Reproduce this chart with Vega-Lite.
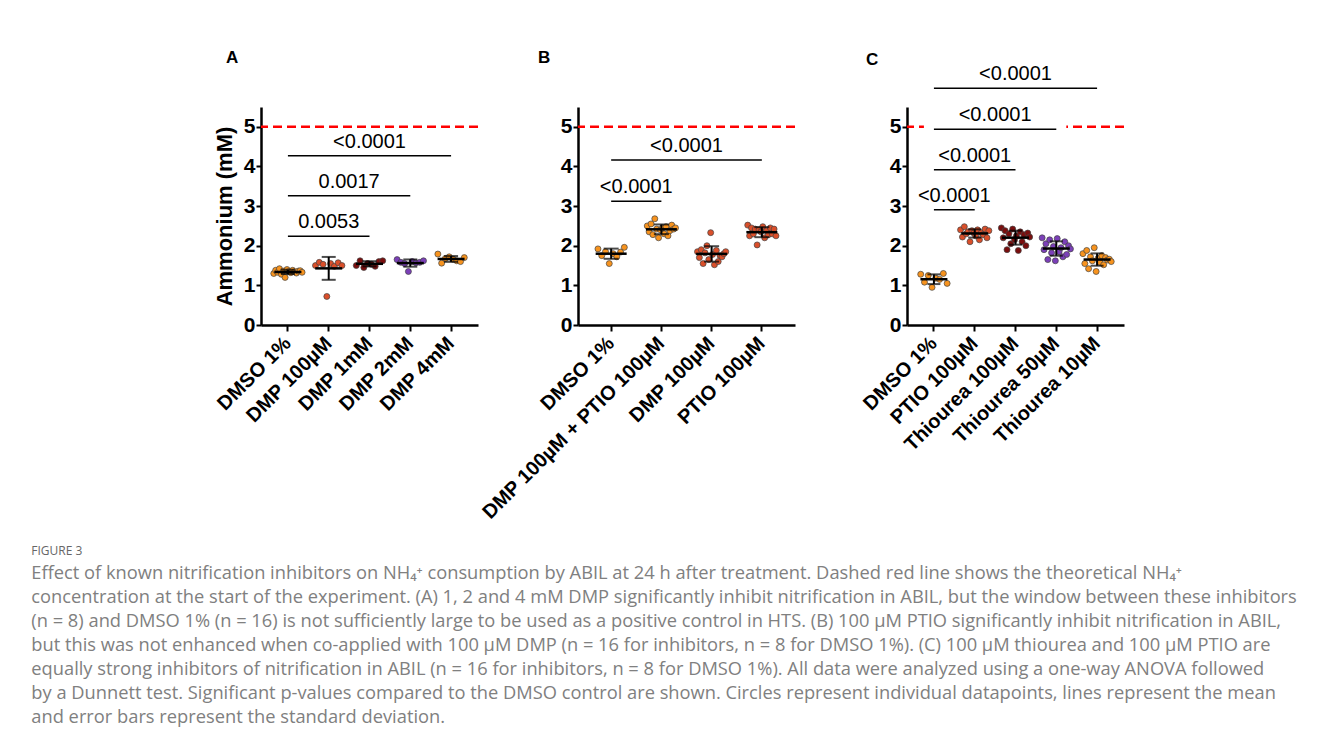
{
  "$schema": "https://vega.github.io/schema/vega-lite/v6.json",
  "background": "white",
  "padding": {"left": 31, "top": 49, "right": 5, "bottom": 5},
  "config": {
    "view": {"stroke": null},
    "font": "Liberation Sans",
    "axis": {"grid": false, "domainColor": "black", "tickColor": "black", "labelColor": "black", "titleColor": "black", "domainWidth": 2.5, "tickWidth": 2, "tickSize": 6, "labelFont": "Liberation Sans", "labelFontWeight": "bold", "titleFont": "Liberation Sans", "titleFontWeight": "bold"},
    "axisY": {"tickSize": 5, "labelFontSize": 21, "labelPadding": 1}
  },
  "title": {
    "text": "FIGURE 3",
    "subtitle": [
      "Effect of known nitrification inhibitors on NH₄⁺ consumption by ABIL at 24 h after treatment. Dashed red line shows the theoretical NH₄⁺",
      "concentration at the start of the experiment. (A) 1, 2 and 4 mM DMP significantly inhibit nitrification in ABIL, but the window between these inhibitors",
      "(n = 8) and DMSO 1% (n = 16) is not sufficiently large to be used as a positive control in HTS. (B) 100 µM PTIO significantly inhibit nitrification in ABIL,",
      "but this was not enhanced when co-applied with 100 µM DMP (n = 16 for inhibitors, n = 8 for DMSO 1%). (C) 100 µM thiourea and 100 µM PTIO are",
      "equally strong inhibitors of nitrification in ABIL (n = 16 for inhibitors, n = 8 for DMSO 1%). All data were analyzed using a one-way ANOVA followed",
      "by a Dunnett test. Significant p-values compared to the DMSO control are shown. Circles represent individual datapoints, lines represent the mean",
      "and error bars represent the standard deviation."
    ],
    "orient": "bottom",
    "anchor": "start",
    "frame": "bounds",
    "offset": 23,
    "dx": -182,
    "font": "Open Sans",
    "fontSize": 12,
    "fontWeight": "normal",
    "color": "#666666",
    "subtitleFont": "Open Sans",
    "subtitleFontSize": 18.3,
    "subtitleColor": "#808080",
    "subtitleLineHeight": 24,
    "subtitlePadding": 7
  },
  "datasets": {
    "ref": [{"ref": 5}],
    "A_pts": [
      {"group": "DMSO 1%", "rep": 1, "value": 1.30}, {"group": "DMSO 1%", "rep": 2, "value": 1.38}, {"group": "DMSO 1%", "rep": 3, "value": 1.33}, {"group": "DMSO 1%", "rep": 4, "value": 1.42},
      {"group": "DMSO 1%", "rep": 5, "value": 1.28}, {"group": "DMSO 1%", "rep": 6, "value": 1.36}, {"group": "DMSO 1%", "rep": 7, "value": 1.20}, {"group": "DMSO 1%", "rep": 8, "value": 1.40},
      {"group": "DMSO 1%", "rep": 9, "value": 1.35}, {"group": "DMSO 1%", "rep": 10, "value": 1.32}, {"group": "DMSO 1%", "rep": 11, "value": 1.38}, {"group": "DMSO 1%", "rep": 12, "value": 1.34},
      {"group": "DMSO 1%", "rep": 13, "value": 1.31}, {"group": "DMSO 1%", "rep": 14, "value": 1.36}, {"group": "DMSO 1%", "rep": 15, "value": 1.37}, {"group": "DMSO 1%", "rep": 16, "value": 1.33},
      {"group": "DMP 100µM", "rep": 1, "value": 1.50}, {"group": "DMP 100µM", "rep": 2, "value": 1.58}, {"group": "DMP 100µM", "rep": 3, "value": 1.53}, {"group": "DMP 100µM", "rep": 4, "value": 0.72},
      {"group": "DMP 100µM", "rep": 5, "value": 1.55}, {"group": "DMP 100µM", "rep": 6, "value": 1.48}, {"group": "DMP 100µM", "rep": 7, "value": 1.57}, {"group": "DMP 100µM", "rep": 8, "value": 1.50},
      {"group": "DMP 1mM", "rep": 1, "value": 1.50}, {"group": "DMP 1mM", "rep": 2, "value": 1.62}, {"group": "DMP 1mM", "rep": 3, "value": 1.45}, {"group": "DMP 1mM", "rep": 4, "value": 1.55},
      {"group": "DMP 1mM", "rep": 5, "value": 1.53}, {"group": "DMP 1mM", "rep": 6, "value": 1.48}, {"group": "DMP 1mM", "rep": 7, "value": 1.60}, {"group": "DMP 1mM", "rep": 8, "value": 1.62},
      {"group": "DMP 2mM", "rep": 1, "value": 1.65}, {"group": "DMP 2mM", "rep": 2, "value": 1.58}, {"group": "DMP 2mM", "rep": 3, "value": 1.55}, {"group": "DMP 2mM", "rep": 4, "value": 1.35},
      {"group": "DMP 2mM", "rep": 5, "value": 1.60}, {"group": "DMP 2mM", "rep": 6, "value": 1.57}, {"group": "DMP 2mM", "rep": 7, "value": 1.58}, {"group": "DMP 2mM", "rep": 8, "value": 1.62},
      {"group": "DMP 4mM", "rep": 1, "value": 1.79}, {"group": "DMP 4mM", "rep": 2, "value": 1.56}, {"group": "DMP 4mM", "rep": 3, "value": 1.68}, {"group": "DMP 4mM", "rep": 4, "value": 1.72},
      {"group": "DMP 4mM", "rep": 5, "value": 1.66}, {"group": "DMP 4mM", "rep": 6, "value": 1.62}, {"group": "DMP 4mM", "rep": 7, "value": 1.60}, {"group": "DMP 4mM", "rep": 8, "value": 1.70}
    ],
    "A_br": [
      {"from": "DMSO 1%", "to": "DMP 1mM", "mid": "DMP 100µM", "between": false, "y": 2.24, "label": "0.0053"},
      {"from": "DMSO 1%", "to": "DMP 2mM", "mid": "DMP 100µM", "between": true, "y": 3.26, "label": "0.0017"},
      {"from": "DMSO 1%", "to": "DMP 4mM", "mid": "DMP 1mM", "between": false, "y": 4.27, "label": "<0.0001"}
    ],
    "B_pts": [
      {"group": "DMSO 1%", "rep": 1, "value": 1.92}, {"group": "DMSO 1%", "rep": 2, "value": 1.75}, {"group": "DMSO 1%", "rep": 3, "value": 1.85}, {"group": "DMSO 1%", "rep": 4, "value": 1.55},
      {"group": "DMSO 1%", "rep": 5, "value": 1.80}, {"group": "DMSO 1%", "rep": 6, "value": 1.72}, {"group": "DMSO 1%", "rep": 7, "value": 1.84}, {"group": "DMSO 1%", "rep": 8, "value": 1.96},
      {"group": "DMP 100µM + PTIO 100µM", "rep": 1, "value": 2.50}, {"group": "DMP 100µM + PTIO 100µM", "rep": 2, "value": 2.35}, {"group": "DMP 100µM + PTIO 100µM", "rep": 3, "value": 2.55}, {"group": "DMP 100µM + PTIO 100µM", "rep": 4, "value": 2.28},
      {"group": "DMP 100µM + PTIO 100µM", "rep": 5, "value": 2.68}, {"group": "DMP 100µM + PTIO 100µM", "rep": 6, "value": 2.42}, {"group": "DMP 100µM + PTIO 100µM", "rep": 7, "value": 2.20}, {"group": "DMP 100µM + PTIO 100µM", "rep": 8, "value": 2.40},
      {"group": "DMP 100µM + PTIO 100µM", "rep": 9, "value": 2.45}, {"group": "DMP 100µM + PTIO 100µM", "rep": 10, "value": 2.30}, {"group": "DMP 100µM + PTIO 100µM", "rep": 11, "value": 2.48}, {"group": "DMP 100µM + PTIO 100µM", "rep": 12, "value": 2.25},
      {"group": "DMP 100µM + PTIO 100µM", "rep": 13, "value": 2.38}, {"group": "DMP 100µM + PTIO 100µM", "rep": 14, "value": 2.52}, {"group": "DMP 100µM + PTIO 100µM", "rep": 15, "value": 2.42}, {"group": "DMP 100µM + PTIO 100µM", "rep": 16, "value": 2.45},
      {"group": "DMP 100µM", "rep": 1, "value": 1.85}, {"group": "DMP 100µM", "rep": 2, "value": 1.70}, {"group": "DMP 100µM", "rep": 3, "value": 1.90}, {"group": "DMP 100µM", "rep": 4, "value": 1.55},
      {"group": "DMP 100µM", "rep": 5, "value": 1.82}, {"group": "DMP 100µM", "rep": 6, "value": 2.00}, {"group": "DMP 100µM", "rep": 7, "value": 1.65}, {"group": "DMP 100µM", "rep": 8, "value": 2.33},
      {"group": "DMP 100µM", "rep": 9, "value": 1.78}, {"group": "DMP 100µM", "rep": 10, "value": 1.52}, {"group": "DMP 100µM", "rep": 11, "value": 1.88}, {"group": "DMP 100µM", "rep": 12, "value": 1.60},
      {"group": "DMP 100µM", "rep": 13, "value": 1.75}, {"group": "DMP 100µM", "rep": 14, "value": 1.72}, {"group": "DMP 100µM", "rep": 15, "value": 1.80}, {"group": "DMP 100µM", "rep": 16, "value": 1.85},
      {"group": "PTIO 100µM", "rep": 1, "value": 2.52}, {"group": "PTIO 100µM", "rep": 2, "value": 2.25}, {"group": "PTIO 100µM", "rep": 3, "value": 2.45}, {"group": "PTIO 100µM", "rep": 4, "value": 2.30},
      {"group": "PTIO 100µM", "rep": 5, "value": 2.42}, {"group": "PTIO 100µM", "rep": 6, "value": 2.02}, {"group": "PTIO 100µM", "rep": 7, "value": 2.40}, {"group": "PTIO 100µM", "rep": 8, "value": 2.35},
      {"group": "PTIO 100µM", "rep": 9, "value": 2.48}, {"group": "PTIO 100µM", "rep": 10, "value": 2.20}, {"group": "PTIO 100µM", "rep": 11, "value": 2.38}, {"group": "PTIO 100µM", "rep": 12, "value": 2.28},
      {"group": "PTIO 100µM", "rep": 13, "value": 2.45}, {"group": "PTIO 100µM", "rep": 14, "value": 2.30}, {"group": "PTIO 100µM", "rep": 15, "value": 2.42}, {"group": "PTIO 100µM", "rep": 16, "value": 2.25}
    ],
    "B_br": [
      {"from": "DMSO 1%", "to": "DMP 100µM + PTIO 100µM", "mid": "DMSO 1%", "between": true, "y": 3.12, "label": "<0.0001"},
      {"from": "DMSO 1%", "to": "PTIO 100µM", "mid": "DMP 100µM + PTIO 100µM", "between": true, "y": 4.16, "label": "<0.0001"}
    ],
    "C_pts": [
      {"group": "DMSO 1%", "rep": 1, "value": 1.28}, {"group": "DMSO 1%", "rep": 2, "value": 1.08}, {"group": "DMSO 1%", "rep": 3, "value": 1.25}, {"group": "DMSO 1%", "rep": 4, "value": 0.95},
      {"group": "DMSO 1%", "rep": 5, "value": 1.18}, {"group": "DMSO 1%", "rep": 6, "value": 1.15}, {"group": "DMSO 1%", "rep": 7, "value": 1.30}, {"group": "DMSO 1%", "rep": 8, "value": 1.05},
      {"group": "PTIO 100µM", "rep": 1, "value": 2.40}, {"group": "PTIO 100µM", "rep": 2, "value": 2.22}, {"group": "PTIO 100µM", "rep": 3, "value": 2.48}, {"group": "PTIO 100µM", "rep": 4, "value": 2.30},
      {"group": "PTIO 100µM", "rep": 5, "value": 2.35}, {"group": "PTIO 100µM", "rep": 6, "value": 2.10}, {"group": "PTIO 100µM", "rep": 7, "value": 2.38}, {"group": "PTIO 100µM", "rep": 8, "value": 2.32},
      {"group": "PTIO 100µM", "rep": 9, "value": 2.25}, {"group": "PTIO 100µM", "rep": 10, "value": 2.40}, {"group": "PTIO 100µM", "rep": 11, "value": 2.15}, {"group": "PTIO 100µM", "rep": 12, "value": 2.33},
      {"group": "PTIO 100µM", "rep": 13, "value": 2.28}, {"group": "PTIO 100µM", "rep": 14, "value": 2.42}, {"group": "PTIO 100µM", "rep": 15, "value": 2.20}, {"group": "PTIO 100µM", "rep": 16, "value": 2.38},
      {"group": "Thiourea 100µM", "rep": 1, "value": 2.45}, {"group": "Thiourea 100µM", "rep": 2, "value": 2.20}, {"group": "Thiourea 100µM", "rep": 3, "value": 2.38}, {"group": "Thiourea 100µM", "rep": 4, "value": 1.90},
      {"group": "Thiourea 100µM", "rep": 5, "value": 2.30}, {"group": "Thiourea 100µM", "rep": 6, "value": 2.05}, {"group": "Thiourea 100µM", "rep": 7, "value": 2.42}, {"group": "Thiourea 100µM", "rep": 8, "value": 2.15},
      {"group": "Thiourea 100µM", "rep": 9, "value": 2.25}, {"group": "Thiourea 100µM", "rep": 10, "value": 1.88}, {"group": "Thiourea 100µM", "rep": 11, "value": 2.35}, {"group": "Thiourea 100µM", "rep": 12, "value": 2.10},
      {"group": "Thiourea 100µM", "rep": 13, "value": 2.28}, {"group": "Thiourea 100µM", "rep": 14, "value": 2.00}, {"group": "Thiourea 100µM", "rep": 15, "value": 2.32}, {"group": "Thiourea 100µM", "rep": 16, "value": 2.22},
      {"group": "Thiourea 50µM", "rep": 1, "value": 2.20}, {"group": "Thiourea 50µM", "rep": 2, "value": 1.90}, {"group": "Thiourea 50µM", "rep": 3, "value": 2.05}, {"group": "Thiourea 50µM", "rep": 4, "value": 1.65},
      {"group": "Thiourea 50µM", "rep": 5, "value": 2.15}, {"group": "Thiourea 50µM", "rep": 6, "value": 1.82}, {"group": "Thiourea 50µM", "rep": 7, "value": 1.98}, {"group": "Thiourea 50µM", "rep": 8, "value": 1.62},
      {"group": "Thiourea 50µM", "rep": 9, "value": 2.18}, {"group": "Thiourea 50µM", "rep": 10, "value": 1.85}, {"group": "Thiourea 50µM", "rep": 11, "value": 1.95}, {"group": "Thiourea 50µM", "rep": 12, "value": 1.72},
      {"group": "Thiourea 50µM", "rep": 13, "value": 2.10}, {"group": "Thiourea 50µM", "rep": 14, "value": 1.78}, {"group": "Thiourea 50µM", "rep": 15, "value": 2.00}, {"group": "Thiourea 50µM", "rep": 16, "value": 1.92},
      {"group": "Thiourea 10µM", "rep": 1, "value": 1.80}, {"group": "Thiourea 10µM", "rep": 2, "value": 1.55}, {"group": "Thiourea 10µM", "rep": 3, "value": 1.88}, {"group": "Thiourea 10µM", "rep": 4, "value": 1.42},
      {"group": "Thiourea 10µM", "rep": 5, "value": 1.72}, {"group": "Thiourea 10µM", "rep": 6, "value": 1.62}, {"group": "Thiourea 10µM", "rep": 7, "value": 1.95}, {"group": "Thiourea 10µM", "rep": 8, "value": 1.35},
      {"group": "Thiourea 10µM", "rep": 9, "value": 1.68}, {"group": "Thiourea 10µM", "rep": 10, "value": 1.58}, {"group": "Thiourea 10µM", "rep": 11, "value": 1.75}, {"group": "Thiourea 10µM", "rep": 12, "value": 1.52},
      {"group": "Thiourea 10µM", "rep": 13, "value": 1.70}, {"group": "Thiourea 10µM", "rep": 14, "value": 1.64}, {"group": "Thiourea 10µM", "rep": 15, "value": 1.66}, {"group": "Thiourea 10µM", "rep": 16, "value": 1.60}
    ],
    "C_br": [
      {"from": "DMSO 1%", "to": "PTIO 100µM", "mid": "DMSO 1%", "between": true, "y": 2.91, "label": "<0.0001"},
      {"from": "DMSO 1%", "to": "Thiourea 100µM", "mid": "PTIO 100µM", "between": false, "y": 3.92, "label": "<0.0001"},
      {"from": "DMSO 1%", "to": "Thiourea 50µM", "mid": "PTIO 100µM", "between": true, "y": 4.94, "label": "<0.0001"},
      {"from": "DMSO 1%", "to": "Thiourea 10µM", "mid": "Thiourea 100µM", "between": false, "y": 5.97, "label": "<0.0001"}
    ]
  },
  "bounds": "flush",
  "spacing": 646,
  "hconcat": [
    {
      "bounds": "flush",
      "spacing": 100,
      "hconcat": [
        {
          "width": 217,
          "height": 218,
          "title": {"text": "A", "anchor": "start", "frame": "group", "dx": -35, "offset": 40, "fontSize": 17, "fontWeight": "bold", "font": "Liberation Sans", "color": "black"},
          "resolve": {"scale": {"xOffset": "independent"}},
          "layer": [
            {"data": {"name": "ref"}, "mark": {"type": "rule", "color": "#ff0000", "strokeDash": [9, 5], "strokeWidth": 2.5},
             "encoding": {"y": {"field": "ref", "type": "quantitative", "title": "Ammonium (mM)", "scale": {"domain": [0, 5.5], "nice": false}}}},
            {"data": {"name": "A_br"}, "mark": {"type": "rule", "color": "white", "strokeWidth": 20, "strokeCap": "square"},
             "encoding": {"x": {"field": "from", "type": "nominal", "title": null, "scale": {"type": "band", "domain": ["DMSO 1%", "DMP 100µM", "DMP 1mM", "DMP 2mM", "DMP 4mM"], "paddingInner": 0.26, "paddingOuter": 0.29}}, "x2": {"field": "to"}, "y": {"field": "y", "type": "quantitative", "title": "Ammonium (mM)"}}},
            {"data": {"name": "A_pts"}, "transform": [{"filter": {"field": "group", "equal": "DMSO 1%"}}],
             "mark": {"type": "circle", "size": 36, "opacity": 1, "stroke": "#444444", "strokeWidth": 0.7},
             "encoding": {
               "x": {"field": "group", "type": "nominal", "title": null, "scale": {"type": "band", "domain": ["DMSO 1%", "DMP 100µM", "DMP 1mM", "DMP 2mM", "DMP 4mM"], "paddingInner": 0.26, "paddingOuter": 0.29},
                     "axis": {"labelAngle": -45, "labelFontSize": 20, "labelLimit": 400, "labelPadding": 9}},
               "xOffset": {"field": "rep", "type": "ordinal"},
               "y": {"field": "value", "type": "quantitative", "title": "Ammonium (mM)", "scale": {"domain": [0, 5.5], "nice": false},
                     "axis": {"titleFontSize": 22, "titlePadding": 7, "values": [0, 1, 2, 3, 4, 5], "labelFontSize": 21, "labelPadding": 1, "tickSize": 5}},
               "color": {"field": "group", "type": "nominal", "scale": {"domain": ["DMSO 1%", "DMP 100µM", "DMP 1mM", "DMP 2mM", "DMP 4mM"], "range": ["#F7931E", "#DA4F2A", "#7A0E0E", "#7B3FB8", "#F7931E"]}, "legend": null}
             }},
            {"data": {"name": "A_pts"}, "transform": [{"filter": {"field": "group", "oneOf": ["DMP 100µM", "DMP 1mM", "DMP 2mM", "DMP 4mM"]}}],
             "mark": {"type": "circle", "size": 36, "opacity": 1, "stroke": "#444444", "strokeWidth": 0.7},
             "encoding": {
               "x": {"field": "group", "type": "nominal", "title": null, "scale": {"type": "band", "domain": ["DMSO 1%", "DMP 100µM", "DMP 1mM", "DMP 2mM", "DMP 4mM"], "paddingInner": 0.26, "paddingOuter": 0.29}},
               "xOffset": {"field": "rep", "type": "ordinal"},
               "y": {"field": "value", "type": "quantitative", "title": "Ammonium (mM)"},
               "color": {"field": "group", "type": "nominal", "scale": {"domain": ["DMSO 1%", "DMP 100µM", "DMP 1mM", "DMP 2mM", "DMP 4mM"], "range": ["#F7931E", "#DA4F2A", "#7A0E0E", "#7B3FB8", "#F7931E"]}, "legend": null}
             }},
            {"data": {"name": "A_pts"},
             "mark": {"type": "errorbar", "extent": "stdev", "color": "black", "ticks": {"size": 14, "thickness": 2, "color": "black"}, "rule": {"strokeWidth": 2, "color": "black"}},
             "encoding": {
               "x": {"field": "group", "type": "nominal", "title": null, "scale": {"type": "band", "domain": ["DMSO 1%", "DMP 100µM", "DMP 1mM", "DMP 2mM", "DMP 4mM"], "paddingInner": 0.26, "paddingOuter": 0.29}},
               "y": {"field": "value", "type": "quantitative", "title": "Ammonium (mM)"}
             }},
            {"data": {"name": "A_pts"},
             "mark": {"type": "tick", "color": "black", "thickness": 2.5, "size": 27, "orient": "horizontal"},
             "encoding": {
               "x": {"field": "group", "type": "nominal", "title": null, "scale": {"type": "band", "domain": ["DMSO 1%", "DMP 100µM", "DMP 1mM", "DMP 2mM", "DMP 4mM"], "paddingInner": 0.26, "paddingOuter": 0.29}},
               "y": {"field": "value", "aggregate": "mean", "type": "quantitative", "title": "Ammonium (mM)"}
             }},
            {"data": {"name": "A_br"}, "mark": {"type": "rule", "color": "black", "strokeWidth": 1.5},
             "encoding": {"x": {"field": "from", "type": "nominal", "title": null, "scale": {"type": "band", "domain": ["DMSO 1%", "DMP 100µM", "DMP 1mM", "DMP 2mM", "DMP 4mM"], "paddingInner": 0.26, "paddingOuter": 0.29}}, "x2": {"field": "to"}, "y": {"field": "y", "type": "quantitative", "title": "Ammonium (mM)"}}},
            {"data": {"name": "A_br"}, "transform": [{"filter": "!datum.between"}],
             "mark": {"type": "text", "fontSize": 20, "font": "Liberation Sans", "baseline": "alphabetic", "dy": -8, "color": "black"},
             "encoding": {"x": {"field": "mid", "type": "nominal", "title": null, "scale": {"type": "band", "domain": ["DMSO 1%", "DMP 100µM", "DMP 1mM", "DMP 2mM", "DMP 4mM"], "paddingInner": 0.26, "paddingOuter": 0.29}},
                          "y": {"field": "y", "type": "quantitative", "title": "Ammonium (mM)"}, "text": {"field": "label"}}},
            {"data": {"name": "A_br"}, "transform": [{"filter": "datum.between"}],
             "mark": {"type": "text", "fontSize": 20, "font": "Liberation Sans", "baseline": "alphabetic", "dy": -8, "color": "black"},
             "encoding": {"x": {"field": "mid", "type": "nominal", "title": null, "bandPosition": 1.1757, "scale": {"type": "band", "domain": ["DMSO 1%", "DMP 100µM", "DMP 1mM", "DMP 2mM", "DMP 4mM"], "paddingInner": 0.26, "paddingOuter": 0.29}},
                          "y": {"field": "y", "type": "quantitative", "title": "Ammonium (mM)"}, "text": {"field": "label"}}}
          ]
        },
        {
          "width": 217,
          "height": 218,
          "title": {"text": "B", "anchor": "start", "frame": "group", "dx": -40, "offset": 40, "fontSize": 17, "fontWeight": "bold", "font": "Liberation Sans", "color": "black"},
          "resolve": {"scale": {"xOffset": "independent"}},
          "layer": [
            {"data": {"name": "ref"}, "mark": {"type": "rule", "color": "#ff0000", "strokeDash": [9, 5], "strokeWidth": 2.5},
             "encoding": {"y": {"field": "ref", "type": "quantitative", "title": null, "scale": {"domain": [0, 5.5], "nice": false}}}},
            {"data": {"name": "B_br"}, "mark": {"type": "rule", "color": "white", "strokeWidth": 20, "strokeCap": "square"},
             "encoding": {"x": {"field": "from", "type": "nominal", "title": null, "scale": {"type": "band", "domain": ["DMSO 1%", "DMP 100µM + PTIO 100µM", "DMP 100µM", "PTIO 100µM"], "paddingInner": 0.4, "paddingOuter": 0.36}}, "x2": {"field": "to"}, "y": {"field": "y", "type": "quantitative", "title": null}}},
            {"data": {"name": "B_pts"}, "transform": [{"filter": {"field": "group", "equal": "DMSO 1%"}}],
             "mark": {"type": "circle", "size": 36, "opacity": 1, "stroke": "#444444", "strokeWidth": 0.7},
             "encoding": {
               "x": {"field": "group", "type": "nominal", "title": null, "scale": {"type": "band", "domain": ["DMSO 1%", "DMP 100µM + PTIO 100µM", "DMP 100µM", "PTIO 100µM"], "paddingInner": 0.4, "paddingOuter": 0.36},
                     "axis": {"labelAngle": -45, "labelFontSize": 20, "labelLimit": 400, "labelPadding": 9}},
               "xOffset": {"field": "rep", "type": "ordinal"},
               "y": {"field": "value", "type": "quantitative", "title": null, "scale": {"domain": [0, 5.5], "nice": false},
                     "axis": {"values": [0, 1, 2, 3, 4, 5], "labelFontSize": 21, "labelPadding": 1, "tickSize": 5}},
               "color": {"field": "group", "type": "nominal", "scale": {"domain": ["DMSO 1%", "DMP 100µM + PTIO 100µM", "DMP 100µM", "PTIO 100µM"], "range": ["#F7931E", "#DA4F2A", "#7A0E0E", "#7B3FB8"]}, "legend": null}
             }},
            {"data": {"name": "B_pts"}, "transform": [{"filter": {"field": "group", "oneOf": ["DMP 100µM + PTIO 100µM", "DMP 100µM", "PTIO 100µM"]}}],
             "mark": {"type": "circle", "size": 36, "opacity": 1, "stroke": "#444444", "strokeWidth": 0.7},
             "encoding": {
               "x": {"field": "group", "type": "nominal", "title": null, "scale": {"type": "band", "domain": ["DMSO 1%", "DMP 100µM + PTIO 100µM", "DMP 100µM", "PTIO 100µM"], "paddingInner": 0.4, "paddingOuter": 0.36}},
               "xOffset": {"field": "rep", "type": "ordinal"},
               "y": {"field": "value", "type": "quantitative", "title": null},
               "color": {"field": "group", "type": "nominal", "scale": {"domain": ["DMSO 1%", "DMP 100µM + PTIO 100µM", "DMP 100µM", "PTIO 100µM"], "range": ["#F7931E", "#DA4F2A", "#7A0E0E", "#7B3FB8"]}, "legend": null}
             }},
            {"data": {"name": "B_pts"},
             "mark": {"type": "errorbar", "extent": "stdev", "color": "black", "ticks": {"size": 15, "thickness": 2, "color": "black"}, "rule": {"strokeWidth": 2, "color": "black"}},
             "encoding": {
               "x": {"field": "group", "type": "nominal", "title": null, "scale": {"type": "band", "domain": ["DMSO 1%", "DMP 100µM + PTIO 100µM", "DMP 100µM", "PTIO 100µM"], "paddingInner": 0.4, "paddingOuter": 0.36}},
               "y": {"field": "value", "type": "quantitative", "title": null}
             }},
            {"data": {"name": "B_pts"},
             "mark": {"type": "tick", "color": "black", "thickness": 2.5, "size": 31, "orient": "horizontal"},
             "encoding": {
               "x": {"field": "group", "type": "nominal", "title": null, "scale": {"type": "band", "domain": ["DMSO 1%", "DMP 100µM + PTIO 100µM", "DMP 100µM", "PTIO 100µM"], "paddingInner": 0.4, "paddingOuter": 0.36}},
               "y": {"field": "value", "aggregate": "mean", "type": "quantitative", "title": null}
             }},
            {"data": {"name": "B_br"}, "mark": {"type": "rule", "color": "black", "strokeWidth": 1.5},
             "encoding": {"x": {"field": "from", "type": "nominal", "title": null, "scale": {"type": "band", "domain": ["DMSO 1%", "DMP 100µM + PTIO 100µM", "DMP 100µM", "PTIO 100µM"], "paddingInner": 0.4, "paddingOuter": 0.36}}, "x2": {"field": "to"}, "y": {"field": "y", "type": "quantitative", "title": null}}},
            {"data": {"name": "B_br"}, "transform": [{"filter": "datum.between"}],
             "mark": {"type": "text", "fontSize": 20, "font": "Liberation Sans", "baseline": "alphabetic", "dy": -8, "color": "black"},
             "encoding": {"x": {"field": "mid", "type": "nominal", "title": null, "bandPosition": 1.3333, "scale": {"type": "band", "domain": ["DMSO 1%", "DMP 100µM + PTIO 100µM", "DMP 100µM", "PTIO 100µM"], "paddingInner": 0.4, "paddingOuter": 0.36}},
                          "y": {"field": "y", "type": "quantitative", "title": null}, "text": {"field": "label"}}}
          ]
        }
      ]
    },
    {
      "width": 217,
      "height": 218,
      "title": {"text": "C", "anchor": "start", "frame": "group", "dx": -41, "offset": -5, "fontSize": 17, "fontWeight": "bold", "font": "Liberation Sans", "color": "black"},
      "resolve": {"scale": {"xOffset": "independent"}},
      "layer": [
        {"data": {"name": "ref"}, "mark": {"type": "rule", "color": "#ff0000", "strokeDash": [9, 5], "strokeWidth": 2.5},
         "encoding": {"y": {"field": "ref", "type": "quantitative", "title": null, "scale": {"domain": [0, 5.5], "nice": false}}}},
        {"data": {"name": "C_br"}, "mark": {"type": "rule", "color": "white", "strokeWidth": 20, "strokeCap": "square"},
         "encoding": {"x": {"field": "from", "type": "nominal", "title": null, "scale": {"type": "band", "domain": ["DMSO 1%", "PTIO 100µM", "Thiourea 100µM", "Thiourea 50µM", "Thiourea 10µM"], "paddingInner": 0.26, "paddingOuter": 0.29}}, "x2": {"field": "to"}, "y": {"field": "y", "type": "quantitative", "title": null}}},
        {"data": {"name": "C_pts"}, "transform": [{"filter": {"field": "group", "equal": "DMSO 1%"}}],
         "mark": {"type": "circle", "size": 36, "opacity": 1, "stroke": "#444444", "strokeWidth": 0.7},
         "encoding": {
           "x": {"field": "group", "type": "nominal", "title": null, "scale": {"type": "band", "domain": ["DMSO 1%", "PTIO 100µM", "Thiourea 100µM", "Thiourea 50µM", "Thiourea 10µM"], "paddingInner": 0.26, "paddingOuter": 0.29},
                 "axis": {"labelAngle": -45, "labelFontSize": 20, "labelLimit": 400, "labelPadding": 9}},
           "xOffset": {"field": "rep", "type": "ordinal"},
           "y": {"field": "value", "type": "quantitative", "title": null, "scale": {"domain": [0, 5.5], "nice": false},
                 "axis": {"values": [0, 1, 2, 3, 4, 5], "labelFontSize": 21, "labelPadding": 1, "tickSize": 5}},
           "color": {"field": "group", "type": "nominal", "scale": {"domain": ["DMSO 1%", "PTIO 100µM", "Thiourea 100µM", "Thiourea 50µM", "Thiourea 10µM"], "range": ["#F7931E", "#DA4F2A", "#7A0E0E", "#7B3FB8", "#F7931E"]}, "legend": null}
         }},
        {"data": {"name": "C_pts"}, "transform": [{"filter": {"field": "group", "oneOf": ["PTIO 100µM", "Thiourea 100µM", "Thiourea 50µM", "Thiourea 10µM"]}}],
         "mark": {"type": "circle", "size": 36, "opacity": 1, "stroke": "#444444", "strokeWidth": 0.7},
         "encoding": {
           "x": {"field": "group", "type": "nominal", "title": null, "scale": {"type": "band", "domain": ["DMSO 1%", "PTIO 100µM", "Thiourea 100µM", "Thiourea 50µM", "Thiourea 10µM"], "paddingInner": 0.26, "paddingOuter": 0.29}},
           "xOffset": {"field": "rep", "type": "ordinal"},
           "y": {"field": "value", "type": "quantitative", "title": null},
           "color": {"field": "group", "type": "nominal", "scale": {"domain": ["DMSO 1%", "PTIO 100µM", "Thiourea 100µM", "Thiourea 50µM", "Thiourea 10µM"], "range": ["#F7931E", "#DA4F2A", "#7A0E0E", "#7B3FB8", "#F7931E"]}, "legend": null}
         }},
        {"data": {"name": "C_pts"},
         "mark": {"type": "errorbar", "extent": "stdev", "color": "black", "ticks": {"size": 13, "thickness": 2, "color": "black"}, "rule": {"strokeWidth": 2, "color": "black"}},
         "encoding": {
           "x": {"field": "group", "type": "nominal", "title": null, "scale": {"type": "band", "domain": ["DMSO 1%", "PTIO 100µM", "Thiourea 100µM", "Thiourea 50µM", "Thiourea 10µM"], "paddingInner": 0.26, "paddingOuter": 0.29}},
           "y": {"field": "value", "type": "quantitative", "title": null}
         }},
        {"data": {"name": "C_pts"},
         "mark": {"type": "tick", "color": "black", "thickness": 2.5, "size": 27, "orient": "horizontal"},
         "encoding": {
           "x": {"field": "group", "type": "nominal", "title": null, "scale": {"type": "band", "domain": ["DMSO 1%", "PTIO 100µM", "Thiourea 100µM", "Thiourea 50µM", "Thiourea 10µM"], "paddingInner": 0.26, "paddingOuter": 0.29}},
           "y": {"field": "value", "aggregate": "mean", "type": "quantitative", "title": null}
         }},
        {"data": {"name": "C_br"}, "mark": {"type": "rule", "color": "black", "strokeWidth": 1.5},
         "encoding": {"x": {"field": "from", "type": "nominal", "title": null, "scale": {"type": "band", "domain": ["DMSO 1%", "PTIO 100µM", "Thiourea 100µM", "Thiourea 50µM", "Thiourea 10µM"], "paddingInner": 0.26, "paddingOuter": 0.29}}, "x2": {"field": "to"}, "y": {"field": "y", "type": "quantitative", "title": null}}},
        {"data": {"name": "C_br"}, "transform": [{"filter": "!datum.between"}],
         "mark": {"type": "text", "fontSize": 20, "font": "Liberation Sans", "baseline": "alphabetic", "dy": -8, "color": "black"},
         "encoding": {"x": {"field": "mid", "type": "nominal", "title": null, "scale": {"type": "band", "domain": ["DMSO 1%", "PTIO 100µM", "Thiourea 100µM", "Thiourea 50µM", "Thiourea 10µM"], "paddingInner": 0.26, "paddingOuter": 0.29}},
                      "y": {"field": "y", "type": "quantitative", "title": null}, "text": {"field": "label"}}},
        {"data": {"name": "C_br"}, "transform": [{"filter": "datum.between"}],
         "mark": {"type": "text", "fontSize": 20, "font": "Liberation Sans", "baseline": "alphabetic", "dy": -8, "color": "black"},
         "encoding": {"x": {"field": "mid", "type": "nominal", "title": null, "bandPosition": 1.1757, "scale": {"type": "band", "domain": ["DMSO 1%", "PTIO 100µM", "Thiourea 100µM", "Thiourea 50µM", "Thiourea 10µM"], "paddingInner": 0.26, "paddingOuter": 0.29}},
                      "y": {"field": "y", "type": "quantitative", "title": null}, "text": {"field": "label"}}}
      ]
    }
  ]
}
